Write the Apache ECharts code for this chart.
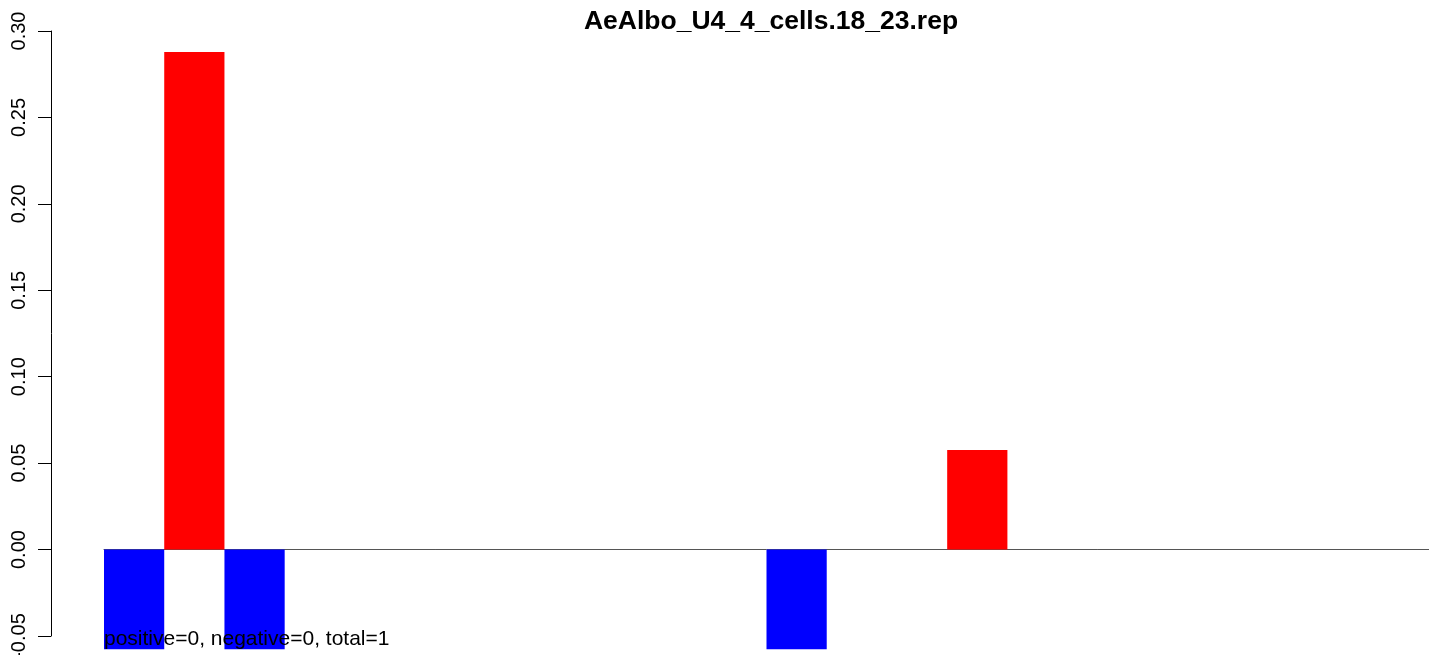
<!DOCTYPE html>
<html>
<head>
<meta charset="utf-8">
<script src="https://cdn.jsdelivr.net/npm/echarts@6/dist/echarts.min.js"></script>
<style>
  html, body { margin: 0; padding: 0; background: #fff; }
  #chart { width: 1429px; height: 655px; }
</style>
</head>
<body>
<div id="chart"></div>
<script>
    // one slot per window, 22 in all (no x labels in the source plot)
    var slots = ['1', '2', '3', '4', '5', '6', '7', '8', '9', '10', '11',
                 '12', '13', '14', '15', '16', '17', '18', '19', '20', '21', '22'];
    var values = [-0.0576, 0.2878, -0.0576, 0, 0, 0, 0, 0, 0, 0, 0,
                  -0.0576, 0, 0, 0.0576, 0, 0, 0, 0, 0, 0, 0];
    var yTicks = [-0.05, 0.30, 0.05];   // min, max, step
    var titleText = 'AeAlbo_U4_4_cells.18_23.rep';
    var noteText = 'positive=0, negative=0, total=1';

    var chart = echarts.init(document.getElementById('chart'));

    var option = {
        animation: false,
        backgroundColor: '#fff',
        title: {
            text: titleText,
            left: 766,
            textAlign: 'center',
            top: 3,
            textStyle: {
                fontFamily: 'Liberation Sans',
                fontSize: 26.5,
                fontWeight: 'bold',
                color: '#000'
            }
        },
        grid: {
            left: 104,
            right: 0,
            top: 31,
            bottom: 19,
            containLabel: false,
            outerBoundsMode: 'none'
        },
        xAxis: {
            type: 'category',
            data: slots,
            axisLine: {show: true, onZero: true, lineStyle: {color: '#555', width: 1}},
            axisTick: {show: false},
            axisLabel: {show: false},
            splitLine: {show: false}
        },
        yAxis: {
            type: 'value',
            min: yTicks[0],
            max: yTicks[1],
            interval: yTicks[2],
            offset: 53,
            axisLine: {show: true, lineStyle: {color: '#000', width: 1}},
            axisTick: {show: true, length: 13, lineStyle: {color: '#000', width: 1}},
            splitLine: {show: false},
            axisLabel: {
                rotate: 90,
                margin: 22,
                fontFamily: 'Liberation Sans',
                fontSize: 20,
                color: '#000',
                formatter: function (v) { return v.toFixed(2); }
            }
        },
        series: [
            {
                type: 'bar',
                data: values,
                barWidth: '100%',
                clip: false,
                itemStyle: {
                    color: function (p) { return p.value < 0 ? '#0000ff' : '#ff0000'; }
                }
            }
        ],
        graphic: [
            {
                type: 'text',
                left: 104,
                top: 629,
                z: 100,
                style: {
                    text: noteText,
                    fontFamily: 'Liberation Sans',
                    fontSize: 21,
                    fill: '#000'
                }
            }
        ]
    };

    chart.setOption(option);
</script>
</body>
</html>
